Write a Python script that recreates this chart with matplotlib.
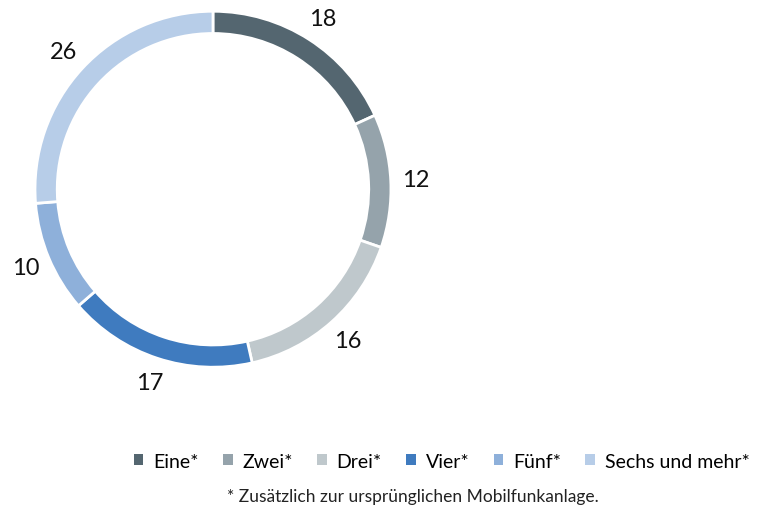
import matplotlib.pyplot as plt
from matplotlib.patches import Patch

plt.rcParams['font.family'] = ['Lato', 'DejaVu Sans']

categories = ["Eine*", "Zwei*", "Drei*", "Vier*", "Fünf*", "Sechs und mehr*"]
values = [18, 12, 16, 17, 10, 26]
colors = ["#546670", "#95a3ab", "#bfc8cc", "#3f7bbf", "#8eb0da", "#b7cde8"]
footnote = "* Zusätzlich zur ursprünglichen Mobilfunkanlage."

total = sum(values)

fig = plt.figure(figsize=(7.59, 5.1), dpi=100)
ax = fig.add_axes([0.0461, 0.278, 0.469, 0.698])

wedges, texts, autotexts = ax.pie(
    values,
    colors=colors,
    startangle=90,
    counterclock=False,
    radius=1.0,
    wedgeprops=dict(width=0.125, edgecolor="white", linewidth=2),
    autopct=lambda p: f"{round(p * total / 100)}",
    pctdistance=1.14,
    textprops=dict(fontsize=17, color="#111111"),
)
for t in autotexts:
    t.set_clip_on(False)
ax.set_xlim(-1, 1)
ax.set_ylim(-1, 1)
ax.set_aspect("equal")
ax.axis("off")

handles = [Patch(facecolor=c, edgecolor="none") for c in colors]
fig.legend(handles, categories, loc="center", bbox_to_anchor=(0.582, 0.094),
           ncol=6, frameon=False, fontsize=14, handlelength=0.5, handleheight=0.5,
           handletextpad=0.5, columnspacing=1.25)

fig.text(0.544, 0.025, footnote, ha="center", va="center", fontsize=12.5, color="#222222")

fig.savefig("out.png", dpi=100)
